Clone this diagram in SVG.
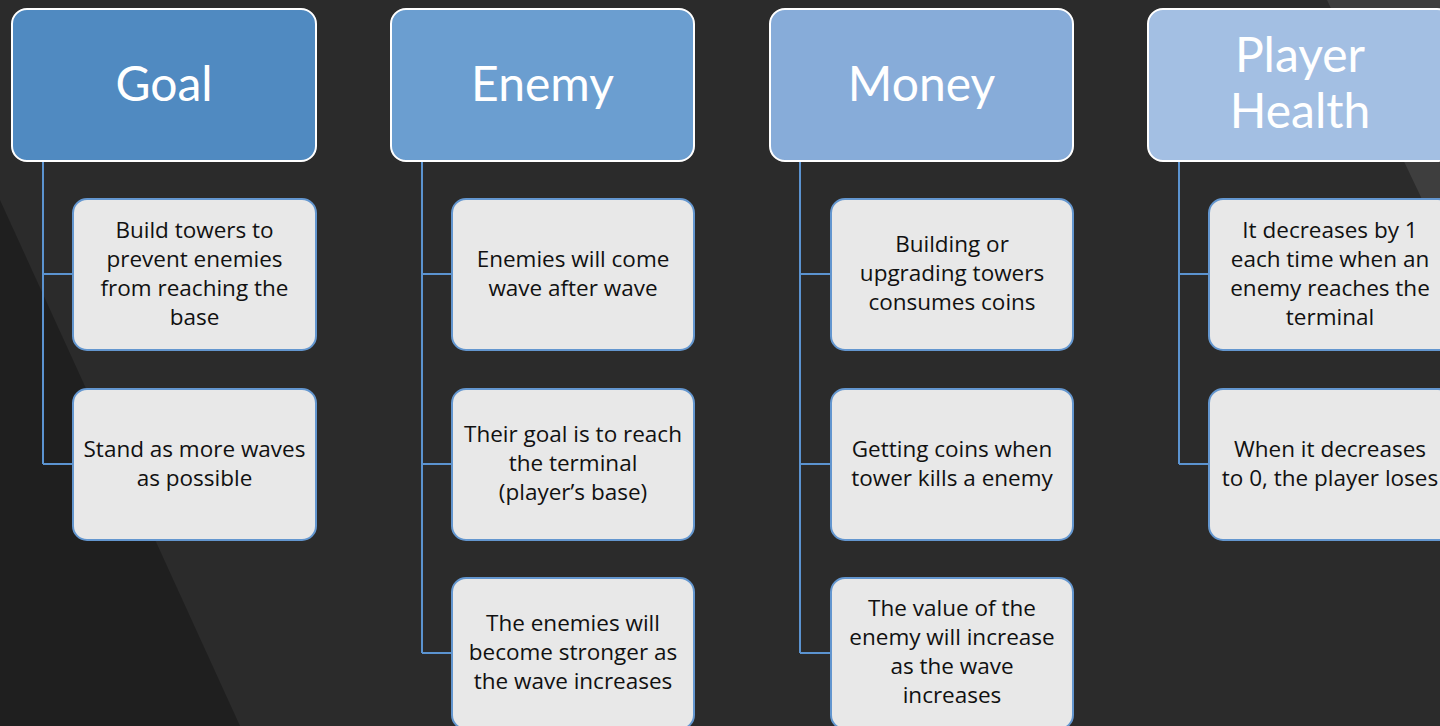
<svg xmlns="http://www.w3.org/2000/svg" width="1440" height="726" viewBox="0 0 1440 726">
<defs>
<style>
.hdr{stroke:#ffffff;stroke-width:2}
.h-t{font-family:Lato,"Open Sans",sans-serif;font-size:48px;fill:#ffffff;text-anchor:middle}
.child{fill:#e8e8e8;stroke:#6396cf;stroke-width:2}
.c-t{font-family:"Open Sans",Lato,sans-serif;font-size:22.5px;fill:#111111;text-anchor:middle}
.conn{fill:none;stroke:#5b93d0;stroke-width:2}
</style>
</defs>
<rect x="0" y="0" width="1440" height="726" fill="#2b2b2b"/>
<polygon points="0,200 240,726 0,726" fill="#1f1f1f"/>
<polygon points="1327,0 1440,0 1440,237" fill="#3e3e3e"/>

<g id="connectors">
<path class="conn" d="M43,161 V464 M43,274 H73 M43,464 H73"/>
<path class="conn" d="M422,161 V653 M422,274 H452 M422,464 H452 M422,653 H452"/>
<path class="conn" d="M800,161 V653 M800,274 H831 M800,464 H831 M800,653 H831"/>
<path class="conn" d="M1179,161 V464 M1179,274 H1209 M1179,464 H1209"/>
</g>

<g id="goal">
<rect class="hdr" x="12" y="9" width="304" height="152" rx="15" fill="#508ac1"/>
<text class="h-t" x="164" y="101">Goal</text>
</g>
<g id="enemy">
<rect class="hdr" x="391" y="9" width="303" height="152" rx="15" fill="#6b9ed0"/>
<text class="h-t" x="542.5" y="101">Enemy</text>
</g>
<g id="money">
<rect class="hdr" x="770" y="9" width="303" height="152" rx="15" fill="#87acd9"/>
<text class="h-t" x="921.5" y="101">Money</text>
</g>
<g id="player-health">
<rect class="hdr" x="1148" y="9" width="304" height="152" rx="15" fill="#a3bfe3"/>
<text class="h-t" x="1300" y="72">Player</text>
<text class="h-t" x="1300" y="128">Health</text>
</g>

<g id="goal-1">
<rect class="child" x="73" y="199" width="243" height="151" rx="14"/>
<text class="c-t" x="194.5" y="238">Build towers to</text>
<text class="c-t" x="194.5" y="267">prevent enemies</text>
<text class="c-t" x="194.5" y="296">from reaching the</text>
<text class="c-t" x="194.5" y="325">base</text>
</g>
<g id="goal-2">
<rect class="child" x="73" y="389" width="243" height="151" rx="14"/>
<text class="c-t" x="194.5" y="457">Stand as more waves</text>
<text class="c-t" x="194.5" y="486">as possible</text>
</g>

<g id="enemy-1">
<rect class="child" x="452" y="199" width="242" height="151" rx="14"/>
<text class="c-t" x="573" y="267">Enemies will come</text>
<text class="c-t" x="573" y="296">wave after wave</text>
</g>
<g id="enemy-2">
<rect class="child" x="452" y="389" width="242" height="151" rx="14"/>
<text class="c-t" x="573" y="442">Their goal is to reach</text>
<text class="c-t" x="573" y="471">the terminal</text>
<text class="c-t" x="573" y="500">(player’s base)</text>
</g>
<g id="enemy-3">
<rect class="child" x="452" y="578" width="242" height="151" rx="14"/>
<text class="c-t" x="573" y="631">The enemies will</text>
<text class="c-t" x="573" y="660">become stronger as</text>
<text class="c-t" x="573" y="689">the wave increases</text>
</g>

<g id="money-1">
<rect class="child" x="831" y="199" width="242" height="151" rx="14"/>
<text class="c-t" x="952" y="252">Building or</text>
<text class="c-t" x="952" y="281">upgrading towers</text>
<text class="c-t" x="952" y="310">consumes coins</text>
</g>
<g id="money-2">
<rect class="child" x="831" y="389" width="242" height="151" rx="14"/>
<text class="c-t" x="952" y="457">Getting coins when</text>
<text class="c-t" x="952" y="486">tower kills a enemy</text>
</g>
<g id="money-3">
<rect class="child" x="831" y="578" width="242" height="151" rx="14"/>
<text class="c-t" x="952" y="616">The value of the</text>
<text class="c-t" x="952" y="645">enemy will increase</text>
<text class="c-t" x="952" y="674">as the wave</text>
<text class="c-t" x="952" y="703">increases</text>
</g>

<g id="player-1">
<rect class="child" x="1209" y="199" width="243" height="151" rx="14"/>
<text class="c-t" x="1330" y="238">It decreases by 1</text>
<text class="c-t" x="1330" y="267">each time when an</text>
<text class="c-t" x="1330" y="296">enemy reaches the</text>
<text class="c-t" x="1330" y="325">terminal</text>
</g>
<g id="player-2">
<rect class="child" x="1209" y="389" width="243" height="151" rx="14"/>
<text class="c-t" x="1330" y="457">When it decreases</text>
<text class="c-t" x="1330" y="486">to 0, the player loses</text>
</g>
</svg>
